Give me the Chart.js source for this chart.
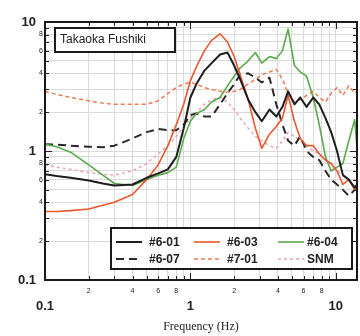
<!DOCTYPE html>
<html lang="en">
<head>
<meta charset="UTF-8">
<title>Takaoka Fushiki</title>
<style>
  body { margin: 0; background: #fff; }
  #wrap { width: 360px; height: 336px; }
</style>
<script src="https://cdn.jsdelivr.net/npm/chart.js"></script>
</head>
<body>
<div id="wrap"><canvas id="hv" width="360" height="336"></canvas></div>
<script>
// frequency grid (Hz)
const freq = [0.1, 0.12, 0.15, 0.2, 0.25, 0.3, 0.4, 0.5, 0.6, 0.7, 0.8, 0.9, 1.0, 1.1, 1.25, 1.4, 1.6, 1.8, 2.0, 2.2,
              2.5, 2.8, 3.1, 3.5, 3.9, 4.3, 4.7, 5.2, 5.7, 6.3, 7, 7.7, 8.5, 9.3, 10.2, 11.2, 12.3, 13.5, 14];

const s601 = [0.66, 0.64, 0.62, 0.59, 0.56, 0.54, 0.55, 0.62, 0.67, 0.72, 0.9, 1.5, 2.6, 3.3, 4.2, 4.8, 5.6, 5.8, 4.6, 3.6,
              2.5, 2.0, 1.7, 2.1, 1.85, 2.2, 2.9, 2.3, 2.6, 2.2, 2.6, 2.3, 1.8, 1.4, 1.0, 0.65, 0.6, 0.52, 0.55];
const s603 = [0.34, 0.34, 0.345, 0.355, 0.38, 0.4, 0.46, 0.6, 0.78, 1.1, 1.6, 2.3, 3.5, 4.5, 6.0, 7.2, 8.1, 7.0, 5.4, 3.9,
              2.5, 1.5, 1.05, 1.35, 1.55, 1.8, 2.7, 1.7, 1.25, 1.1, 1.1, 0.95, 0.85, 0.8, 0.7, 0.55, 0.6, 0.5, 0.55];
const s604 = [1.13, 1.08, 0.98, 0.78, 0.65, 0.56, 0.54, 0.6, 0.65, 0.68, 0.75, 1.25, 1.7, 1.95, 2.1, 2.4, 2.6, 3.2, 3.8, 4.4,
              5.0, 5.8, 4.8, 5.4, 5.2, 6.0, 8.8, 4.6, 4.1, 3.8, 2.6, 1.6, 0.9, 0.7, 0.75, 0.8, 1.2, 1.75, 1.05];
const s607 = [1.13, 1.12, 1.1, 1.08, 1.07, 1.1, 1.25, 1.4, 1.48, 1.45, 1.45, 1.6, 1.9, 1.95, 1.85, 1.85, 2.3, 2.8, 3.3, 3.9,
              4.0, 3.7, 3.4, 3.7, 2.3, 1.6, 1.2, 1.1, 1.3, 1.0, 0.9, 0.85, 0.7, 0.6, 0.55, 0.5, 0.45, 0.5, 0.5];
const s701 = [2.9, 2.75, 2.6, 2.45, 2.35, 2.3, 2.3, 2.3, 2.45, 2.8, 3.1, 3.3, 3.4, 3.3, 3.1, 3.0, 2.9, 2.85, 2.9, 3.0,
              3.3, 3.6, 3.9, 4.1, 4.3, 3.6, 2.8, 2.4, 2.5, 2.7, 2.9, 2.6, 2.4, 2.8, 3.1, 2.7, 3.2, 2.8, 2.9];
const sSNM = [0.78, 0.75, 0.72, 0.68, 0.66, 0.65, 0.7, 0.8, 0.95, 1.1, 1.3, 1.55, 1.8, 2.0, 2.3, 2.5, 2.6, 2.4, 2.1, 1.8,
              1.5, 1.3, 1.2, 1.1, 1.05, 1.2, 1.4, 1.3, 1.2, 1.1, 1.0, 0.95, 0.85, 0.8, 0.7, 0.65, 0.6, 0.6, 0.6];

const seriesNames = ['#6-01', '#6-03', '#6-04', '#6-07', '#7-01', 'SNM'];

// tick / grid values and labels
const xGrid = [0.1, 0.2, 0.3, 0.4, 0.5, 0.6, 0.7, 0.8, 0.9, 1, 2, 3, 4, 5, 6, 7, 8, 9, 10];
const yGrid = [0.1, 0.2, 0.3, 0.4, 0.5, 0.6, 0.7, 0.8, 0.9, 1, 2, 3, 4, 5, 6, 7, 8, 9, 10];
const majorLabels = ['0.1', '1', '10'];
const minorLabelVals = [0.2, 0.4, 0.6, 0.8, 2, 4, 6, 8];

function pts(ys) {
    return freq.map((f, i) => ({ x: f, y: ys[i] }));
}
function isMajor(v) {
    const l = Math.log10(v);
    return Math.abs(l - Math.round(l)) < 1e-6;
}

const frame = {
    id: 'frame',
    afterDatasetsDraw(chart) {
        const { ctx, chartArea: a, scales: { x, y } } = chart;
        ctx.save();
        // inward tick marks on all four sides
        ctx.strokeStyle = '#222';
        ctx.lineWidth = 1;
        ctx.beginPath();
        xGrid.forEach(v => {
            const px = Math.round(x.getPixelForValue(v)) + 0.5;
            const len = isMajor(v) ? 7 : 4;
            ctx.moveTo(px, a.bottom); ctx.lineTo(px, a.bottom - len);
            ctx.moveTo(px, a.top); ctx.lineTo(px, a.top + len);
        });
        yGrid.forEach(v => {
            const py = Math.round(y.getPixelForValue(v)) + 0.5;
            const len = isMajor(v) ? 7 : 4;
            ctx.moveTo(a.left, py); ctx.lineTo(a.left + len, py);
            ctx.moveTo(a.right, py); ctx.lineTo(a.right - len, py);
        });
        ctx.stroke();

        // frame
        ctx.lineWidth = 2;
        ctx.strokeStyle = '#1a1a1a';
        ctx.strokeRect(a.left, a.top, a.right - a.left, a.bottom - a.top);

        // tick labels
        ctx.fillStyle = '#222';
        ctx.font = 'bold 13px "Liberation Sans", Arial, sans-serif';
        ctx.textAlign = 'right';
        ctx.textBaseline = 'middle';
        [0.1, 1, 10].forEach((v, i) => {
            ctx.fillText(majorLabels[i], a.left - 9, y.getPixelForValue(v));
        });
        ctx.textAlign = 'center';
        [0.1, 1, 10].forEach((v, i) => {
            ctx.fillText(majorLabels[i], x.getPixelForValue(v), a.bottom + 26);
        });
        ctx.font = '7px "Liberation Sans", Arial, sans-serif';
        minorLabelVals.forEach(v => {
            const lab = String(Math.round(v < 1 ? v * 10 : v));
            ctx.fillText(lab, a.left - 4, y.getPixelForValue(v));
            ctx.fillText(lab, x.getPixelForValue(v), a.bottom + 11);
        });

        // site label box
        ctx.fillStyle = '#fff';
        ctx.fillRect(55, 28, 120, 24);
        ctx.lineWidth = 2;
        ctx.strokeRect(55, 28, 120, 24);
        ctx.fillStyle = '#222';
        ctx.font = '12px "Liberation Sans", Arial, sans-serif';
        ctx.textAlign = 'left';
        ctx.fillText('Takaoka Fushiki', 60, 40);

        // legend box
        ctx.fillStyle = '#fff';
        ctx.fillRect(111, 228, 241, 41);
        ctx.strokeRect(111, 228, 241, 41);
        const sx = [116, 194, 278], lx = [149, 227, 307], ry = [242, 259];
        ctx.font = 'bold 12px "Liberation Sans", Arial, sans-serif';
        chart.data.datasets.forEach((ds, i) => {
            const c = i % 3, r = Math.floor(i / 3);
            ctx.strokeStyle = ds.borderColor;
            ctx.lineWidth = ds.borderWidth;
            ctx.setLineDash(ds.borderDash || []);
            ctx.beginPath();
            ctx.moveTo(sx[c], ry[r]);
            ctx.lineTo(sx[c] + 26, ry[r]);
            ctx.stroke();
            ctx.setLineDash([]);
            ctx.fillStyle = '#222';
            ctx.fillText(ds.label, lx[c], ry[r] + 1);
        });
        ctx.restore();
    }
};

const ctx = document.getElementById('hv').getContext('2d');
new Chart(ctx, {
    type: 'line',
    data: {
        datasets: [
            { label: seriesNames[0], data: pts(s601), borderColor: '#1e1e1e', borderWidth: 2 },
            { label: seriesNames[1], data: pts(s603), borderColor: '#e8582f', borderWidth: 1.6 },
            { label: seriesNames[2], data: pts(s604), borderColor: '#5aa94c', borderWidth: 1.6 },
            { label: seriesNames[3], data: pts(s607), borderColor: '#2a2a2a', borderWidth: 2, borderDash: [8, 5] },
            { label: seriesNames[4], data: pts(s701), borderColor: '#ee7a52', borderWidth: 1.5, borderDash: [4, 3] },
            { label: seriesNames[5], data: pts(sSNM), borderColor: '#e9a3b6', borderWidth: 1.5, borderDash: [3, 3] }
        ]
    },
    options: {
        responsive: false,
        animation: false,
        layout: { padding: { top: 22, right: 3, left: 0, bottom: 0 } },
        elements: { point: { radius: 0 }, line: { tension: 0, borderJoinStyle: 'round' } },
        plugins: { legend: { display: false }, tooltip: { enabled: false } },
        scales: {
            x: {
                type: 'logarithmic',
                min: 0.1,
                max: 14,
                afterBuildTicks: s => { s.ticks = xGrid.map(v => ({ value: v })); },
                afterFit: s => { s.height = 56; },
                ticks: { display: false },
                grid: { color: '#dadada', drawTicks: false },
                border: { display: false },
                title: {
                    display: true,
                    text: 'Frequency (Hz)',
                    color: '#222',
                    font: { family: '"Liberation Serif", "Times New Roman", serif', size: 12 },
                    padding: { top: 0, bottom: 2 }
                }
            },
            y: {
                type: 'logarithmic',
                min: 0.1,
                max: 10,
                afterBuildTicks: s => { s.ticks = yGrid.map(v => ({ value: v })); },
                afterFit: s => { s.width = 45; },
                ticks: { display: false },
                grid: { color: '#dadada', drawTicks: false },
                border: { display: false }
            }
        }
    },
    plugins: [frame]
});
</script>
</body>
</html>
